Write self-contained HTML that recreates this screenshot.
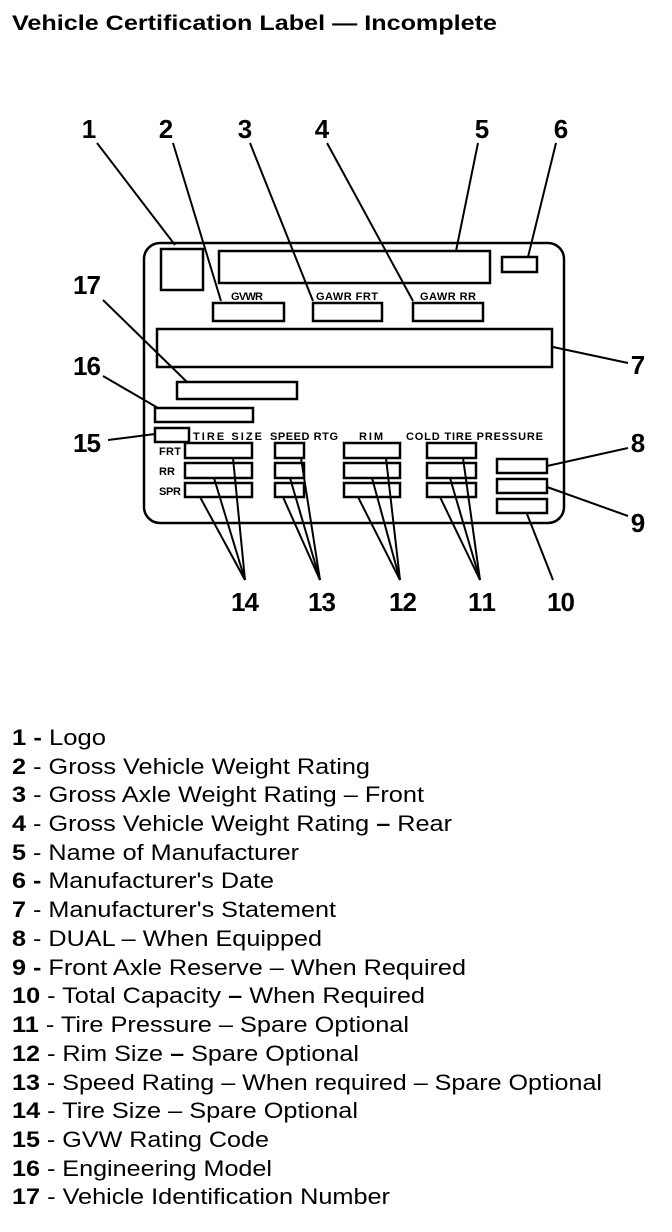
<!DOCTYPE html>
<html><head><meta charset="utf-8"><style>
html,body{margin:0;padding:0;background:#fff;width:672px;height:1232px;overflow:hidden}
svg{display:block}
</style></head><body>
<svg width="672" height="1232" viewBox="0 0 672 1232" xmlns="http://www.w3.org/2000/svg" font-family="Liberation Sans, sans-serif">
<text x="12" y="30" font-size="21" font-weight="bold" textLength="485" lengthAdjust="spacingAndGlyphs">Vehicle Certification Label — Incomplete</text>
<g font-size="26" font-weight="bold" text-anchor="middle">
<text x="89" y="138" textLength="12">1</text>
<text x="166" y="138" textLength="14">2</text>
<text x="245" y="138" textLength="14">3</text>
<text x="322" y="138" textLength="14">4</text>
<text x="482" y="138" textLength="14">5</text>
<text x="561" y="138" textLength="14">6</text>
<text x="87" y="294" textLength="28">17</text>
<text x="87" y="375" textLength="28">16</text>
<text x="87" y="452" textLength="28">15</text>
<text x="638" y="374" textLength="14">7</text>
<text x="638" y="452" textLength="14">8</text>
<text x="638" y="532" textLength="14">9</text>
<text x="245" y="611" textLength="28">14</text>
<text x="322" y="611" textLength="28">13</text>
<text x="403" y="611" textLength="28">12</text>
<text x="482" y="611" textLength="28">11</text>
<text x="561" y="611" textLength="28">10</text>
</g>
<g fill="none" stroke="#000" stroke-width="2.5">
<rect x="144" y="243" width="420" height="280" rx="16"/>
<rect x="161" y="249" width="42" height="41"/>
<rect x="219" y="251" width="271" height="32"/>
<rect x="502" y="257" width="35" height="15"/>
<rect x="213" y="303" width="71" height="18"/>
<rect x="313" y="303" width="69" height="18"/>
<rect x="413" y="303" width="70" height="18"/>
<rect x="157" y="329" width="395" height="38"/>
<rect x="177" y="382" width="120" height="17"/>
<rect x="155" y="408" width="98" height="14"/>
<rect x="155" y="428" width="34" height="14"/>
<rect x="185" y="443" width="67" height="15"/>
<rect x="185" y="463" width="67" height="15"/>
<rect x="185" y="483" width="67" height="14"/>
<rect x="275" y="443" width="29" height="15"/>
<rect x="275" y="463" width="29" height="15"/>
<rect x="275" y="483" width="29" height="14"/>
<rect x="344" y="443" width="56" height="15"/>
<rect x="344" y="463" width="56" height="15"/>
<rect x="344" y="483" width="56" height="14"/>
<rect x="427" y="443" width="49" height="15"/>
<rect x="427" y="463" width="49" height="15"/>
<rect x="427" y="483" width="49" height="14"/>
<rect x="497" y="459" width="50" height="14"/>
<rect x="497" y="479" width="50" height="14"/>
<rect x="497" y="499" width="50" height="14"/>
</g>
<g stroke="#000" stroke-width="2">
<line x1="97" y1="143" x2="175" y2="245"/>
<line x1="173" y1="143" x2="221" y2="301"/>
<line x1="250" y1="143" x2="313" y2="301"/>
<line x1="327" y1="143" x2="413" y2="301"/>
<line x1="478" y1="143" x2="456" y2="251"/>
<line x1="556" y1="143" x2="528" y2="257"/>
<line x1="553" y1="347" x2="628" y2="363"/>
<line x1="103" y1="300" x2="187" y2="382"/>
<line x1="103" y1="376" x2="158" y2="408"/>
<line x1="108" y1="440" x2="155" y2="434"/>
<line x1="547" y1="466" x2="628" y2="448"/>
<line x1="547" y1="487" x2="628" y2="516"/>
<line x1="527" y1="514" x2="553" y2="580"/>
<line x1="245" y1="580" x2="200" y2="497"/>
<line x1="245" y1="580" x2="214" y2="478"/>
<line x1="245" y1="580" x2="233" y2="458"/>
<line x1="320" y1="580" x2="283" y2="497"/>
<line x1="320" y1="580" x2="290" y2="478"/>
<line x1="320" y1="580" x2="301" y2="458"/>
<line x1="400" y1="580" x2="358" y2="497"/>
<line x1="400" y1="580" x2="372" y2="478"/>
<line x1="400" y1="580" x2="386" y2="458"/>
<line x1="480" y1="580" x2="440" y2="497"/>
<line x1="480" y1="580" x2="450" y2="478"/>
<line x1="480" y1="580" x2="463" y2="458"/>
</g>
<g font-size="11" font-weight="bold">
<text x="231" y="300" textLength="32">GVWR</text>
<text x="316" y="300" textLength="62">GAWR FRT</text>
<text x="420" y="300" textLength="56">GAWR RR</text>
<text x="193" y="440" textLength="69">TIRE SIZE</text>
<text x="270" y="440" textLength="68">SPEED RTG</text>
<text x="359" y="440" textLength="24">RIM</text>
<text x="406" y="440" textLength="137">COLD TIRE PRESSURE</text>
<text x="159" y="455" textLength="22">FRT</text>
<text x="159" y="475" textLength="16">RR</text>
<text x="159" y="495" textLength="22">SPR</text>
</g>
<g font-size="22">
<text x="12" y="745" textLength="94" lengthAdjust="spacingAndGlyphs"><tspan font-weight="bold">1 -</tspan> Logo</text>
<text x="12" y="774" textLength="358" lengthAdjust="spacingAndGlyphs"><tspan font-weight="bold">2</tspan> - Gross Vehicle Weight Rating</text>
<text x="12" y="802" textLength="412" lengthAdjust="spacingAndGlyphs"><tspan font-weight="bold">3</tspan> - Gross Axle Weight Rating – Front</text>
<text x="12" y="831" textLength="440" lengthAdjust="spacingAndGlyphs"><tspan font-weight="bold">4</tspan> - Gross Vehicle Weight Rating <tspan font-weight="bold">–</tspan> Rear</text>
<text x="12" y="860" textLength="287" lengthAdjust="spacingAndGlyphs"><tspan font-weight="bold">5</tspan> - Name of Manufacturer</text>
<text x="12" y="888" textLength="262" lengthAdjust="spacingAndGlyphs"><tspan font-weight="bold">6 -</tspan> Manufacturer's Date</text>
<text x="12" y="917" textLength="324" lengthAdjust="spacingAndGlyphs"><tspan font-weight="bold">7</tspan> - Manufacturer's Statement</text>
<text x="12" y="946" textLength="310" lengthAdjust="spacingAndGlyphs"><tspan font-weight="bold">8</tspan> - DUAL – When Equipped</text>
<text x="12" y="975" textLength="454" lengthAdjust="spacingAndGlyphs"><tspan font-weight="bold">9 -</tspan> Front Axle Reserve – When Required</text>
<text x="12" y="1003" textLength="413" lengthAdjust="spacingAndGlyphs"><tspan font-weight="bold">10</tspan> - Total Capacity <tspan font-weight="bold">–</tspan> When Required</text>
<text x="12" y="1032" textLength="397" lengthAdjust="spacingAndGlyphs"><tspan font-weight="bold">11</tspan> - Tire Pressure – Spare Optional</text>
<text x="12" y="1061" textLength="347" lengthAdjust="spacingAndGlyphs"><tspan font-weight="bold">12</tspan> - Rim Size <tspan font-weight="bold">–</tspan> Spare Optional</text>
<text x="12" y="1090" textLength="590" lengthAdjust="spacingAndGlyphs"><tspan font-weight="bold">13</tspan> - Speed Rating – When required – Spare Optional</text>
<text x="12" y="1118" textLength="346" lengthAdjust="spacingAndGlyphs"><tspan font-weight="bold">14</tspan> - Tire Size – Spare Optional</text>
<text x="12" y="1147" textLength="257" lengthAdjust="spacingAndGlyphs"><tspan font-weight="bold">15</tspan> - GVW Rating Code</text>
<text x="12" y="1176" textLength="260" lengthAdjust="spacingAndGlyphs"><tspan font-weight="bold">16</tspan> - Engineering Model</text>
<text x="12" y="1204" textLength="378" lengthAdjust="spacingAndGlyphs"><tspan font-weight="bold">17</tspan> - Vehicle Identification Number</text>
</g>
</svg>
</body></html>
